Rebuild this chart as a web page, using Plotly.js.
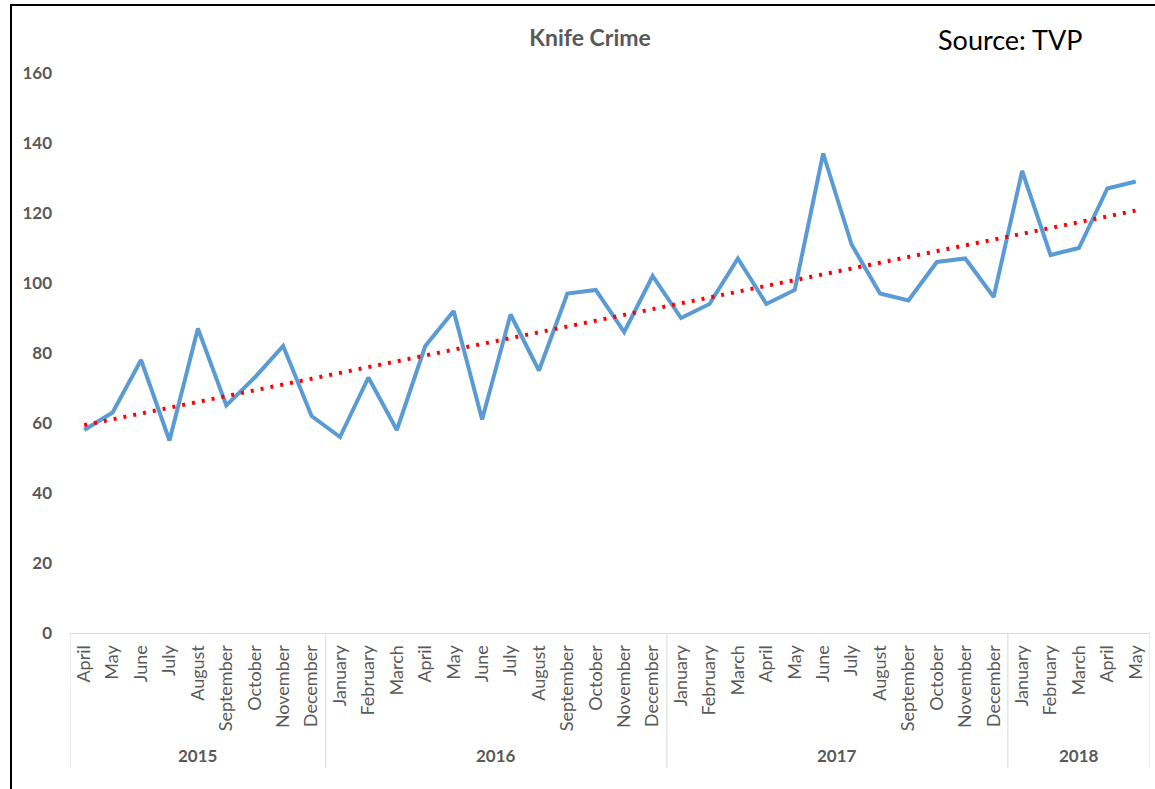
<!DOCTYPE html>
<html>
<head>
<meta charset="utf-8">
<script src="https://cdn.plot.ly/plotly-3.0.1.min.js"></script>
<style>html,body{margin:0;padding:0;background:#fff;}#chart{width:1155px;height:789px;}</style>
</head>
<body>
<div id="chart"></div>
<script>
var years = ['2015','2015','2015','2015','2015','2015','2015','2015','2015',
  '2016','2016','2016','2016','2016','2016','2016','2016','2016','2016','2016','2016',
  '2017','2017','2017','2017','2017','2017','2017','2017','2017','2017','2017','2017',
  '2018','2018','2018','2018','2018'];
var months = ['April','May','June','July','August','September','October','November','December',
  'January','February','March','April','May','June','July','August','September','October','November','December',
  'January','February','March','April','May','June','July','August','September','October','November','December',
  'January','February','March','April','May'];
var knifeCrime = [58,63,78,55,87,65,73,82,62,
  56,73,58,82,92,61,91,75,97,98,86,102,
  90,94,107,94,98,137,111,97,95,106,107,96,
  132,108,110,127,129];
var trendStart = 59.4;
var trendEnd = 120.7;
var yTicks = [0,20,40,60,80,100,120,140,160];
var yearGroups = ['2015','2016','2017','2018'];

var n = knifeCrime.length;
var gray = '#595959';
var font = 'Lato, "Open Sans", sans-serif';

// unique category keys, labelled with the month names
var keys = months.map(function(m,i){ return m+' '+years[i]; });

var traces = [
  {x:keys, y:knifeCrime, type:'scatter', mode:'lines',
   line:{color:'#5B9BD5', width:4}, hoverinfo:'y', showlegend:false},
  {x:[keys[0], keys[n-1]], y:[trendStart, trendEnd],
   type:'scatter', mode:'lines', line:{color:'#FF0000', width:4, dash:'3px,7px'},
   hoverinfo:'skip', showlegend:false}
];

var px = function(p){ return (p-70)/1080; };
var py = function(p){ return (633-p)/560; };

// year group boundaries (category index) from the years array
var bounds = [-0.5];
var centers = [];
yearGroups.forEach(function(y){
  var first = years.indexOf(y), last = years.lastIndexOf(y);
  centers.push((first+last)/2);
  bounds.push(last+0.5);
});

var shapes = [
  {type:'path', xref:'paper', yref:'paper',
   path:'M '+px(11)+' '+py(795)+' L '+px(11)+' '+py(5)+' L '+px(1160)+' '+py(5),
   line:{color:'#000', width:2}}
];
bounds.forEach(function(b){
  shapes.push({type:'line', xref:'x', yref:'paper', x0:b, x1:b, y0:0, y1:py(768),
    line:{color:'#d9d9d9', width:1}});
});

var annotations = [
  {text:'Source: TVP', xref:'paper', yref:'paper', x:px(1010), y:py(40),
   showarrow:false, font:{family:font, size:27, color:'#000'}, xanchor:'center', yanchor:'middle'}
];
yearGroups.forEach(function(y,i){
  annotations.push({text:'<b>'+y+'</b>', xref:'x', yref:'paper', x:centers[i], y:py(756),
    showarrow:false, font:{family:font, size:17, color:gray}, xanchor:'center', yanchor:'middle'});
});

var layout = {
  width:1155, height:789,
  margin:{l:70, r:5, t:73, b:156},
  paper_bgcolor:'#fff', plot_bgcolor:'#fff',
  font:{family:font, color:gray, size:17},
  title:{text:'<b>Knife Crime</b>', font:{family:font, size:23, color:gray},
         xref:'container', yref:'container', x:590/1155, y:1-38/789, xanchor:'center', yanchor:'middle'},
  xaxis:{type:'category', tickvals:keys, ticktext:months, tickangle:-90,
         range:[-0.5, n-0.5], showgrid:false, zeroline:false,
         showline:true, linecolor:'#d9d9d9', linewidth:1,
         tickfont:{family:font, size:18, color:gray}, ticks:'', ticklabelstandoff:4},
  yaxis:{range:[0,160], tickvals:yTicks, ticktext:yTicks.map(function(v){return '<b>'+v+'</b>';}),
         showgrid:false, zeroline:false, showline:false, ticks:'',
         tickfont:{family:font, size:17, color:gray}, ticklabelstandoff:17},
  annotations:annotations,
  shapes:shapes
};

Plotly.newPlot('chart', traces, layout, {displayModeBar:false, staticPlot:true});
</script>
</body>
</html>
